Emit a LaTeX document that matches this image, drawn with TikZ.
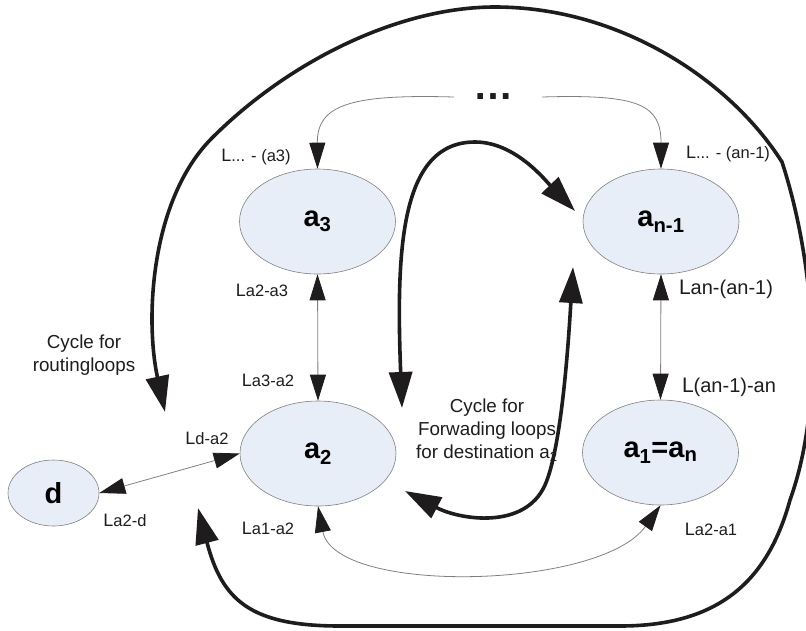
\documentclass[tikz,border=0pt]{standalone}
\usepackage{fontspec}
\setmainfont{Liberation Sans}
\usetikzlibrary{shapes.geometric,arrows.meta}
\definecolor{nodefill}{RGB}{232,238,247}
\definecolor{linkgray}{RGB}{128,128,128}
\definecolor{inkblack}{RGB}{30,28,28}
\newcommand{\lbl}[1]{{\fontsize{18}{20}\selectfont L}{\fontsize{16.5}{20}\selectfont #1}}
\newcommand{\lblbig}[1]{{\fontsize{21}{24}\selectfont L}{\fontsize{20}{24}\selectfont #1}}
\tikzset{
	state/.style={ellipse,draw=linkgray,line width=0.6pt,fill=nodefill,inner sep=0pt,minimum width=156pt,minimum height=105pt,font=\fontsize{29}{30}\selectfont\bfseries},
	lab/.style={inner sep=0pt,text=inkblack},
	note/.style={inner sep=0pt,align=center,text=inkblack,font=\fontsize{18.8}{23}\selectfont},
	link/.style={draw=linkgray,line width=0.8pt,{Triangle[length=26pt,width=16pt,color=inkblack]}-{Triangle[length=26pt,width=16pt,color=inkblack]}},
	linkone/.style={draw=linkgray,line width=0.8pt,-{Triangle[length=26pt,width=16pt,color=inkblack]}},
	cyc/.style={draw=inkblack,line width=3.6pt,{Triangle[length=36pt,width=23pt]}-{Triangle[length=36pt,width=23pt]}}
}
\begin{document}
\begin{tikzpicture}[x=1pt,y=-1pt]
	\useasboundingbox (0,0) rectangle (806,630);
	\node[state] (a3) at (317.5,221.5) {a\textsubscript{3}};
	\node[state] (an1) at (661,221.5) {a\textsubscript{n-1}};
	\node[state] (a2) at (318,453.5) {a\textsubscript{2}};
	\node[state] (a1) at (660.5,452.5) {a\textsubscript{1}=a\textsubscript{n}};
	\node[state,minimum width=91pt,minimum height=66pt] (d) at (53.5,493) {d};
	\node[inner sep=0pt,text=inkblack,font=\fontsize{40}{40}\selectfont\bfseries] (dots) at (493,97) {…};
	\node[lab] (ldota3) at (256,157) {\lbl{... - (a3)}};
	\node[lab] (ldotan1) at (728,154) {\lbl{... - (an-1)}};
	\node[lab] (la2a3) at (262,290) {\lbl{a2-a3}};
	\node[lab] (la3a2) at (268,380) {\lbl{a3-a2}};
	\node[lab] (lanan1) at (726,289) {\lblbig{an-(an-1)}};
	\node[lab] (lan1an) at (729,387) {\lblbig{(an-1)-an}};
	\node[lab] (lda2) at (207,438) {\lbl{d-a2}};
	\node[lab] (la2d) at (125,520) {\lbl{a2-d}};
	\node[lab] (la1a2) at (268,528) {\lbl{a1-a2}};
	\node[lab] (la2a1) at (711,529) {\lbl{a2-a1}};
	\node[note] (routetxt) at (84,355) {Cycle for\\routingloops};
	\node[note] (fwdtxt) at (487,430) {Cycle for\\Forwading loops\\for destination a\textsubscript{2}};
	\draw[link] (a3.south) -- (a2.north);
	\draw[link] (an1.south) -- (a1.north);
	\draw[link] (d.east) -- (a2.west);
	\draw[link] (a2.south) .. controls (335,595) and (600,590) .. (a1.south);
	\draw[linkone] ([xshift=-19pt]dots.west) .. controls (350,94) and (317,105) .. (a3.north);
	\draw[linkone] ([xshift=29pt]dots.east) .. controls (640,94) and (661,105) .. (an1.north);
	\coordinate (r1) at (165,412);
	\coordinate (r2) at (198,508);
	\draw[cyc] (r1) .. controls (145,320) and (150,200) .. (212,138) .. controls (290,60) and (400,7) .. (495,7) .. controls (620,7) and (730,80) .. (782,162) .. controls (814,260) and (826,400) .. (790,500) .. controls (768,580) and (720,626) .. (620,626) -- (340,626) .. controls (250,626) and (222,600) .. (r2);
	\coordinate (f1) at (402,408);
	\coordinate (f2) at (575,211);
	\draw[cyc] (f1) .. controls (396,250) and (400,142) .. (475,142) .. controls (515,142) and (545,180) .. (f2);
	\coordinate (f3) at (405,491);
	\coordinate (f4) at (573,267);
	\draw[cyc] (f3) .. controls (460,520) and (525,530) .. (545,485) .. controls (561,449) and (568,350) .. (f4);
\end{tikzpicture}
\end{document}
